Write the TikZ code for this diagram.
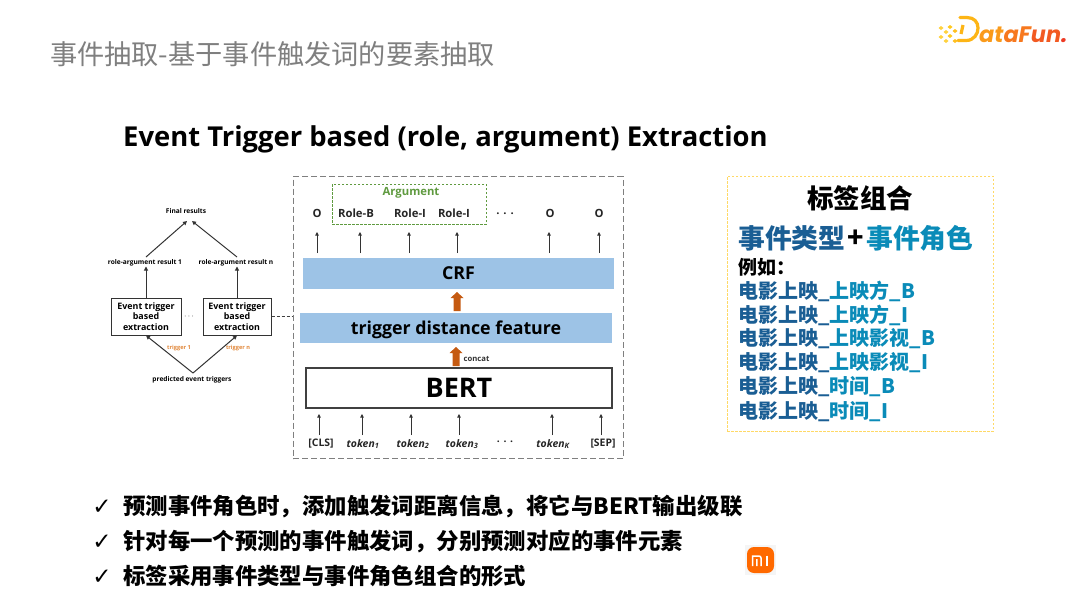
\documentclass[tikz,border=0pt]{standalone}
\usepackage{fontspec}
\setmainfont{Open Sans}
\newfontfamily\cjk{Noto Sans CJK SC}
\newfontfamily\checkfont{DejaVu Sans}
\newfontfamily\logofont{Poppins}
\usetikzlibrary{arrows.meta}
\definecolor{titlegray}{HTML}{7F7F7F}
\definecolor{barblue}{HTML}{9DC3E6}
\definecolor{arrorange}{HTML}{C55A11}
\definecolor{trigorange}{HTML}{E2883B}
\definecolor{argreen}{HTML}{5F9A3F}
\definecolor{dashgray}{HTML}{7F7F7F}
\definecolor{labelyellow}{HTML}{FFD966}
\definecolor{deepblue}{HTML}{1A5E94}
\definecolor{tealblue}{HTML}{0A8BB8}
\definecolor{mi}{HTML}{FF6900}
\newcommand{\fs}[1]{\fontsize{#1}{#1}\selectfont}
\tikzset{
  x=1pt,y=-1pt,
  lab/.style={inner sep=0pt,font=\bfseries\fs{6.6}},
  seq/.style={inner sep=0pt,font=\bfseries\fs{11.3},text=black!85},
  inseq/.style={inner sep=0pt,font=\bfseries\fs{10.4},text=black!85},
  intok/.style={inner sep=0pt,font=\bfseries\itshape\fs{10.4},text=black!85},
  smallarr/.style={draw=black!80,line width=0.8pt,-{Triangle[length=3.5pt,width=3.5pt]}},
  leftarr/.style={draw=black!80,line width=1pt,-{Triangle[length=4pt,width=4pt]}},
  bar/.style={fill=barblue,inner sep=0pt,font=\bfseries\fs{17.8}},
  extbox/.style={draw=black!80,line width=1pt,fill=white,inner sep=0pt,align=center,minimum height=37pt,font=\bfseries\fontsize{8.9}{10.6}\selectfont},
  bigarr/.style={draw=none,fill=arrorange},
  bullet/.style={anchor=west,inner sep=0pt,font=\cjk\bfseries\fs{22.4}},
  tick/.style={anchor=center,inner sep=0pt,font=\checkfont\bfseries\fs{23}},
  lrow/.style={anchor=west,inner sep=0pt,font=\cjk\bfseries\fs{20}},
}
\newcommand{\rowtext}[2]{\textcolor{deepblue}{#1}\textcolor{tealblue}{#2}}
\begin{document}
\begin{tikzpicture}
\useasboundingbox (0,0) rectangle (1080,608);
\fill[white] (0,0) rectangle (1080,608);
% title
\node[anchor=west,inner sep=0pt,text=titlegray,font=\cjk\fs{27.2}] (title) at (50,54) {事件抽取-基于事件触发词的要素抽取};
\node[anchor=west,inner sep=0pt,font=\bfseries\fs{27.4}] (head) at (123,139) {Event Trigger based (role, argument) Extraction};
% left diagram
\node[lab] (final) at (186,211) {Final results};
\node[lab] (res1) at (145,263) {role-argument result 1};
\node[lab] (resn) at (236,263) {role-argument result n};
\node[extbox,minimum width=70pt] (ext1) at (146,316.5) {Event trigger\\based\\extraction};
\node[extbox,minimum width=68pt] (extn) at (237,316.5) {Event trigger\\based\\extraction};
\node[inner sep=0pt,font=\fs{8}] (ldots) at (189,317) {$\cdots$};
\node[lab] (pred) at (192,380) {predicted event triggers};
\node[lab,text=trigorange,font=\bfseries\fs{5.6}] (t1) at (179,348) {trigger 1};
\node[lab,text=trigorange,font=\bfseries\fs{5.6}] (tn) at (238,348) {trigger n};
\coordinate (apex) at (193,373);
\coordinate (fin1) at (187,221);
\coordinate (fin2) at (192,221);
\coordinate (r1s) at (146,257);
\coordinate (rns) at (237,257);
\draw[leftarr] (ext1.north) -- (ext1.north |- res1.south);
\draw[leftarr] (extn.north) -- (extn.north |- resn.south);
\draw[leftarr] (r1s) -- (fin1);
\draw[leftarr] (rns) -- (fin2);
\draw[leftarr] (apex) -- (ext1.south);
\draw[leftarr] (apex) -- (extn.south);
% main dashed frame
\node[draw=dashgray,dash pattern=on 6pt off 3pt,line width=1pt,minimum width=330pt,minimum height=282pt,inner sep=0pt] (frame) at (458,317.5) {};
\coordinate (fl) at (frame.west |- extn.east);
\draw[densely dashed,line width=0.8pt,draw=black!75] (extn.east) -- (fl);
% argument box
\node[draw=argreen,dash pattern=on 2.5pt off 1.5pt,line width=0.7pt,minimum width=154pt,minimum height=40pt,inner sep=0pt] (argbox) at (409,204) {};
\node[inner sep=0pt,text=argreen,font=\bfseries\fs{11.3}] (argl) at (411,193) {Argument};
% output labels
\node[seq] (o1) at (317,213.5) {O};
\node[seq] (rb) at (356,213) {Role-B};
\node[seq] (ri1) at (410,213) {Role-I};
\node[seq] (ri2) at (454,213) {Role-I};
\node[seq] (od) at (505,214) {. . .};
\node[seq] (o2) at (550,213.5) {O};
\node[seq] (o3) at (599,213.5) {O};
% bars
\node[bar,minimum width=311pt,minimum height=31pt] (crf) at (458.5,273.5) {CRF};
\node[bar,minimum width=312pt,minimum height=30pt,text height=13pt,text depth=1pt] (tdf) at (456,328) {trigger distance feature};
\node[draw=black!75,line width=1.2pt,fill=white,inner sep=0pt,minimum width=306pt,minimum height=40pt,font=\bfseries\fs{27}] (bert) at (459,388) {BERT};
% up arrows to output
\foreach \n/\x in {a1/317,a2/360,a3/409,a4/457,a5/549,a6/599}{
  \coordinate (\n) at (\x,232);
  \coordinate (\n s) at (\x,253);
  \draw[smallarr] (\n s) -- (\n);
}
% orange arrows
\coordinate (oa1) at (457,311);
\coordinate (oa2) at (456,366);
\fill[bigarr] (oa1) ++(-3.5,0) -- ++(0,-13) -- ++(-3,0) -- ++(6.5,-6) -- ++(6.5,6) -- ++(-3,0) -- ++(0,13) -- cycle;
\fill[bigarr] (oa2) ++(-3.5,0) -- ++(0,-13) -- ++(-3,0) -- ++(6.5,-6) -- ++(6.5,6) -- ++(-3,0) -- ++(0,13) -- cycle;
\node[inner sep=0pt,font=\bfseries\fs{7.7},text=black!80] (concat) at (476.5,359) {concat};
% input labels
\node[inseq] (cls) at (321,444) {[CLS]};
\node[intok] (tk1) at (363,444) {token\textsubscript{1}};
\node[intok] (tk2) at (413,444) {token\textsubscript{2}};
\node[intok] (tk3) at (462,444) {token\textsubscript{3}};
\node[inseq] (idots) at (505,442) {. . .};
\node[intok] (tkk) at (553,444) {token\textsubscript{K}};
\node[inseq] (sep) at (603,444) {[SEP]};
\foreach \n/\x in {b1/319,b2/362,b3/411,b4/459,b5/552,b6/601}{
  \coordinate (\n) at (\x,414);
  \coordinate (\n s) at (\x,435);
  \draw[smallarr] (\n s) -- (\n);
}
% right box
\node[draw=labelyellow,dash pattern=on 2.5pt off 1.5pt,line width=1pt,minimum width=266pt,minimum height=255pt,inner sep=0pt] (lbox) at (860,303.5) {};
\node[inner sep=0pt,font=\cjk\bfseries\fs{26.5}] (lt) at (860,198) {标签组合};
\node[anchor=west,inner sep=0pt,text=deepblue,font=\cjk\bfseries\fs{26.8}] (l1) at (738,238) {事件类型};
\node[inner sep=0pt,font=\cjk\bfseries\fs{27}] (lp) at (856,238.5) {+};
\node[anchor=west,inner sep=0pt,text=tealblue,font=\cjk\bfseries\fs{26.8}] (l2) at (866,238) {事件角色};
\node[anchor=west,inner sep=0pt,font=\cjk\bfseries\fs{19}] (eg) at (738,267) {例如：};
\node[lrow] (r1) at (738,291) {\rowtext{电影上映\_}{上映方\_B}};
\node[lrow] (r2) at (738,315) {\rowtext{电影上映\_}{上映方\_I}};
\node[lrow] (r3) at (738,339) {\rowtext{电影上映\_}{上映影视\_B}};
\node[lrow] (r4) at (738,363) {\rowtext{电影上映\_}{上映影视\_I}};
\node[lrow] (r5) at (738,387) {\rowtext{电影上映\_}{时间\_B}};
\node[lrow] (r6) at (738,412) {\rowtext{电影上映\_}{时间\_I}};
% bullets
\node[tick] (c1) at (102,507.5) {✓};
\node[tick] (c2) at (102,542.5) {✓};
\node[tick] (c3) at (102,577.5) {✓};
\node[bullet] (b1t) at (123,507) {预测事件角色时，添加触发词距离信息，将它与BERT输出级联};
\node[bullet] (b2t) at (123,541) {针对每一个预测的事件触发词，分别预测对应的事件元素};
\node[bullet] (b3t) at (123,576) {标签采用事件类型与事件角色组合的形式};
% Mi logo
\fill[black!4] (745,545) rectangle (776,575);
\fill[mi,rounded corners=7pt] (747,547) rectangle (774,573);
\draw[white,line width=1.5pt] (752.5,566) -- (752.5,556) -- (759,556) to[out=0,in=90] (761,558) -- (761,566) (756.8,566) -- (756.8,559);
\draw[white,line width=1.8pt] (767,555.5) -- (767,566);
% DataFun logo
\foreach \px/\py/\c in {941/28/FFD23F,946/32/FFD23F,941/37/FFD23F,950/27/FFC91F,955/31/FFC01F,950/36/FFC91F,955/41/FFC01F,946/41/FFD23F}{
  \definecolor{cc}{HTML}{\c}
  \fill[cc] (\px,\py-2) -- (\px+2.5,\py) -- (\px,\py+2) -- (\px-2.5,\py) -- cycle;
}
\definecolor{logoa}{HTML}{FDB515}
\definecolor{logob}{HTML}{FA9A1A}
\definecolor{logoc}{HTML}{F7781E}
\definecolor{logod}{HTML}{F25A22}
\definecolor{logoe}{HTML}{EE3A24}
\draw[logoa,line width=3.2pt,line cap=round] (958,40.5) -- (966,40.5) .. controls (974,40.5) and (978,34) .. (978,28) .. controls (978,22) and (974,17.5) .. (967,17.5) -- (960,17.5);
\draw[logoa,line width=3.2pt] (963,25) -- (961,34);
\node[anchor=base west,inner sep=0pt,font=\logofont\bfseries\itshape\fs{22.4}] (logo) at (979,42) {\textcolor{logob}{a}\textcolor{logob}{t}\textcolor{logoc}{a}\textcolor{logoc}{F}\textcolor{logod}{u}\textcolor{logod}{n}\textcolor{logoe}{.}};
\end{tikzpicture}
\end{document}
